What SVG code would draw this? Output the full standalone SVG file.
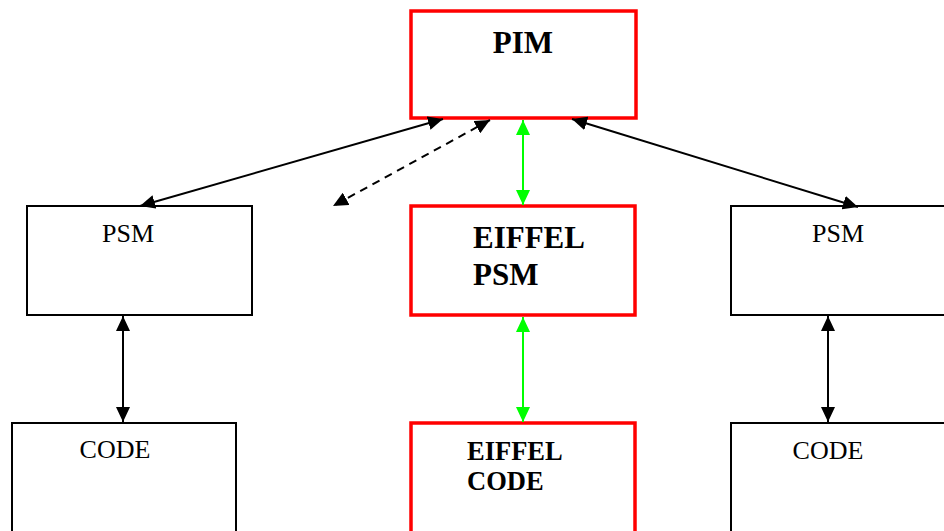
<svg xmlns="http://www.w3.org/2000/svg" width="944" height="531" viewBox="0 0 944 531">
<style>
.blk{fill:#fff;stroke:#000;stroke-width:2}
.red{fill:#fff;stroke:#ff0000;stroke-width:3.5}
.t{font-family:"Liberation Serif","Times New Roman",serif;fill:#000}
.b{font-weight:bold}
.c{stroke:#000;stroke-width:2;fill:none}
.g{stroke:#00ff00;stroke-width:2;fill:none}
.d{stroke-dasharray:8,6}
</style>
<defs>
<marker id="ak" markerUnits="userSpaceOnUse" markerWidth="15" markerHeight="14" refX="15" refY="7" orient="auto-start-reverse"><path d="M0,0 L15,7 L0,14 z" fill="#000"/></marker>
<marker id="ag" markerUnits="userSpaceOnUse" markerWidth="15" markerHeight="14" refX="15" refY="7" orient="auto-start-reverse"><path d="M0,0 L15,7 L0,14 z" fill="#00ff00"/></marker>
</defs>
<rect width="944" height="531" fill="#fff"/>
<g id="pim"><rect class="red" x="411" y="11" width="225" height="107"/><text class="t b" x="523" y="53" font-size="31" text-anchor="middle">PIM</text></g>
<g id="eiffel-psm"><rect class="red" x="411" y="206" width="224" height="109"/><text class="t b" x="473" y="248" font-size="31">EIFFEL</text><text class="t b" x="473" y="285" font-size="31">PSM</text></g>
<g id="eiffel-code"><rect class="red" x="411" y="423" width="224" height="120"/><text class="t b" x="467" y="460" font-size="26.5">EIFFEL</text><text class="t b" x="467" y="490" font-size="26.5">CODE</text></g>
<g id="psm-left"><rect class="blk" x="27" y="206" width="225" height="109"/><text class="t" x="128" y="242" font-size="26" text-anchor="middle">PSM</text></g>
<g id="code-left"><rect class="blk" x="12" y="423" width="224" height="120"/><text class="t" x="115" y="458" font-size="26" text-anchor="middle">CODE</text></g>
<g id="psm-right"><rect class="blk" x="731" y="206" width="225" height="109"/><text class="t" x="838" y="242" font-size="26" text-anchor="middle">PSM</text></g>
<g id="code-right"><rect class="blk" x="731" y="423" width="225" height="120"/><text class="t" x="828" y="459" font-size="26" text-anchor="middle">CODE</text></g>
<g id="connectors">
<line class="c" x1="443" y1="119" x2="140" y2="206" marker-start="url(#ak)" marker-end="url(#ak)"/>
<line class="c d" x1="490" y1="120" x2="333" y2="206" marker-start="url(#ak)" marker-end="url(#ak)"/>
<line class="c" x1="572" y1="119" x2="858" y2="207" marker-start="url(#ak)" marker-end="url(#ak)"/>
<line class="g" x1="523" y1="120" x2="523" y2="205" marker-start="url(#ag)" marker-end="url(#ag)"/>
<line class="g" x1="523" y1="317" x2="523" y2="422" marker-start="url(#ag)" marker-end="url(#ag)"/>
<line class="c" x1="123" y1="316" x2="123" y2="422" marker-start="url(#ak)" marker-end="url(#ak)"/>
<line class="c" x1="828" y1="316" x2="828" y2="422" marker-start="url(#ak)" marker-end="url(#ak)"/>
</g>
</svg>
